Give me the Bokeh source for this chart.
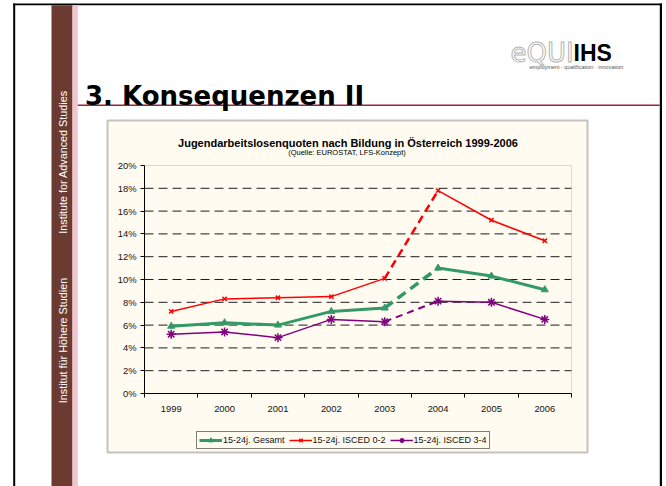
import math
from bokeh.plotting import figure
from bokeh.models import (Range1d, FixedTicker, NumeralTickFormatter, BoxAnnotation,
                          Label, Legend, LegendItem, LinearAxis)
from bokeh.embed import file_html
from bokeh.resources import INLINE

# ---------------- data ----------------
years = [1999, 2000, 2001, 2002, 2003, 2004, 2005, 2006]
gesamt = [5.9, 6.2, 6.0, 7.2, 7.5, 11.0, 10.3, 9.1]
isced_0_2 = [7.2, 8.3, 8.4, 8.5, 10.1, 17.8, 15.2, 13.4]
isced_3_4 = [5.2, 5.4, 4.9, 6.5, 6.3, 8.1, 8.0, 6.5]
series_names = ["15-24j. Gesamt", "15-24j. ISCED 0-2", "15-24j. ISCED 3-4"]
y_ticks_pct = [0, 2, 4, 6, 8, 10, 12, 14, 16, 18, 20]
break_year = 2003  # series break between 2003 and 2004 (drawn dashed)

chart_title = "Jugendarbeitslosenquoten nach Bildung in Österreich 1999-2006"
chart_subtitle = "(Quelle: EUROSTAT, LFS-Konzept)"
slide_title = "3. Konsequenzen II"

# ---------------- layout ----------------
W, H = 666, 486
FL, FR, FT, FB = 144, 571, 165, 393   # plot area in canvas px
CREAM = "#FFFBF0"

X0, X1 = years[0] - 0.5, years[-1] + 0.5
Y0, Y1 = y_ticks_pct[0] / 100, y_ticks_pct[-1] / 100
kx = (X1 - X0) / (FR - FL)
ky = (Y1 - Y0) / (FB - FT)

# full-canvas frame: default ranges are canvas pixels (y downwards)
p = figure(width=W, height=H, output_backend="svg", toolbar_location=None,
           x_range=Range1d(0, W), y_range=Range1d(H, 0),
           x_axis_type=None, y_axis_type=None,
           min_border=0, min_border_left=0, min_border_right=0,
           min_border_top=0, min_border_bottom=0,
           background_fill_color="white", border_fill_color="white",
           outline_line_color=None)

# chart scales mapped onto the plot area
p.extra_x_ranges = {"cx": Range1d(X0 - FL * kx, X1 + (W - FR) * kx)}
p.extra_y_ranges = {"cy": Range1d(Y0 - (H - FB) * ky, Y1 + FT * ky)}


def box(l, r, t, b, color, level="annotation", line=None, lw=0, xr="default", yr="default"):
    p.add_layout(BoxAnnotation(left=l, right=r, top=t, bottom=b,
                               x_range_name=xr, y_range_name=yr,
                               fill_color=color, fill_alpha=1 if color else 0,
                               line_color=line, line_width=lw, level=level))


def label(x, y, text, size, font="Liberation Sans", style="normal", color="black",
          align="left", baseline="alphabetic", angle=0, **extra):
    p.add_layout(Label(x=x, y=y, text=text,
                       text_font=font, text_font_size=size, text_font_style=style,
                       text_color=color, text_align=align, text_baseline=baseline,
                       angle=angle, **extra))


# chart box (drawn first)
box(107, 587, 120, 452, CREAM, level="image", line="#3c3c3c", lw=2)
# plot area border (grey, top/right visible)
box(X0, X1, Y1, Y0, None, level="underlay", line="#8c8c8c", lw=1, xr="cx", yr="cy")

# ---------------- axes ----------------
xa = LinearAxis(x_range_name="cx", fixed_location=FB, bounds=(X0, X1))
xa.ticker = FixedTicker(ticks=years, minor_ticks=[y - 0.5 for y in years] + [X1])
xa.major_tick_line_color = None
xa.major_tick_out = 0
xa.major_tick_in = 0
xa.minor_tick_out = 4
xa.minor_tick_in = 0
xa.minor_tick_line_color = "black"
xa.axis_line_color = "black"
xa.major_label_standoff = 8
xa.major_label_text_font = "Liberation Sans"
xa.major_label_text_font_size = "9.4px"
xa.major_label_text_color = "#111111"
p.add_layout(xa, "below")

ya = LinearAxis(y_range_name="cy", fixed_location=FL, bounds=(Y0, Y1))
ya.ticker = FixedTicker(ticks=[t / 100 for t in y_ticks_pct])
ya.formatter = NumeralTickFormatter(format="0%")
ya.major_tick_out = 4
ya.major_tick_in = 0
ya.minor_tick_line_color = None
ya.axis_line_color = "black"
ya.major_tick_line_color = "black"
ya.major_label_standoff = 4
ya.major_label_text_font = "Liberation Sans"
ya.major_label_text_font_size = "9.4px"
ya.major_label_text_color = "#111111"
p.add_layout(ya, "left")

# horizontal dashed grid lines at the inner ticks
grid_vals = [t / 100 for t in y_ticks_pct[1:-1]]
p.segment(x0=[X0] * len(grid_vals), x1=[X1] * len(grid_vals), y0=grid_vals, y1=grid_vals,
          x_range_name="cx", y_range_name="cy",
          line_color="#1e1e1e", line_width=1, line_dash="9 5")

# ---------------- series ----------------
styles = [
    dict(color="#339966", width=3, dw=3.5, dash="10 6", marker="triangle", size=7, mlw=1),
    dict(color="#FF0000", width=1.5, dw=2.5, dash="8 5", marker="x", size=6, mlw=1.5),
    dict(color="#800080", width=1.5, dw=2, dash="7 5", marker="asterisk", size=9, mlw=1.5),
]
bi = years.index(break_year)
items = []
for name, vals, st in zip(series_names, [gesamt, isced_0_2, isced_3_4], styles):
    frac = [v / 100 for v in vals]
    kw = dict(x_range_name="cx", y_range_name="cy", line_color=st["color"])
    r1 = p.line(years[:bi + 1], frac[:bi + 1], line_width=st["width"], **kw)
    p.line(years[bi:bi + 2], frac[bi:bi + 2], line_width=st["dw"],
           line_dash=st["dash"], **kw)
    p.line(years[bi + 1:], frac[bi + 1:], line_width=st["width"], **kw)
    sc = p.scatter(years, frac, marker=st["marker"], size=st["size"],
                   fill_color=st["color"], line_width=st["mlw"], **kw)
    items.append(LegendItem(label=name, renderers=[r1, sc]))

legend = Legend(items=items, location=(196, H - 449), orientation="horizontal",
                border_line_color="black", border_line_width=1,
                background_fill_color=CREAM, background_fill_alpha=1,
                padding=2, spacing=4, margin=0, label_standoff=1,
                glyph_width=23, glyph_height=12, label_height=12,
                label_text_font="Liberation Sans", label_text_font_size="9px",
                label_text_color="#111111")
p.add_layout(legend)

# ---------------- slide decoration ----------------
box(12.7, 661.5, 3, 4.8, "black")
box(12.7, 14.7, 3, 500, "black")
box(659.3, 661.5, 3, 500, "black")
box(51, 72, 4.8, 500, "#6B3A30")
box(72, 77.3, 4.8, 500, "#F4C4CE")
box(77.3, 659.3, 104, 105.6, "#9E1F45")

label(62.5, 161.5, "Institute for Advanced Studies", "10.8px", color="white",
      align="center", baseline="middle", angle=math.pi / 2)
label(62.5, 340, "Institut für Höhere Studien", "10.8px", color="white",
      align="center", baseline="middle", angle=math.pi / 2)

label(84.5, 95, slide_title, "26px", font="DejaVu Sans", style="bold")

label(510, 52, "eQUI", "26px", font="DejaVu Sans", color="white",
      text_outline_color="#b4b4b4")
label(573, 52, "IHS", "23px", font="Liberation Sans", style="bold", color="black")
label(529, 66, "employment · qualification · innovation", "5.5px", color="#555555")

label(347.5, 142, chart_title, "11px", style="bold", align="center")
label(346.5, 152, chart_subtitle, "7.5px", align="center")

open("out.html", "w").write(file_html(p, INLINE))
